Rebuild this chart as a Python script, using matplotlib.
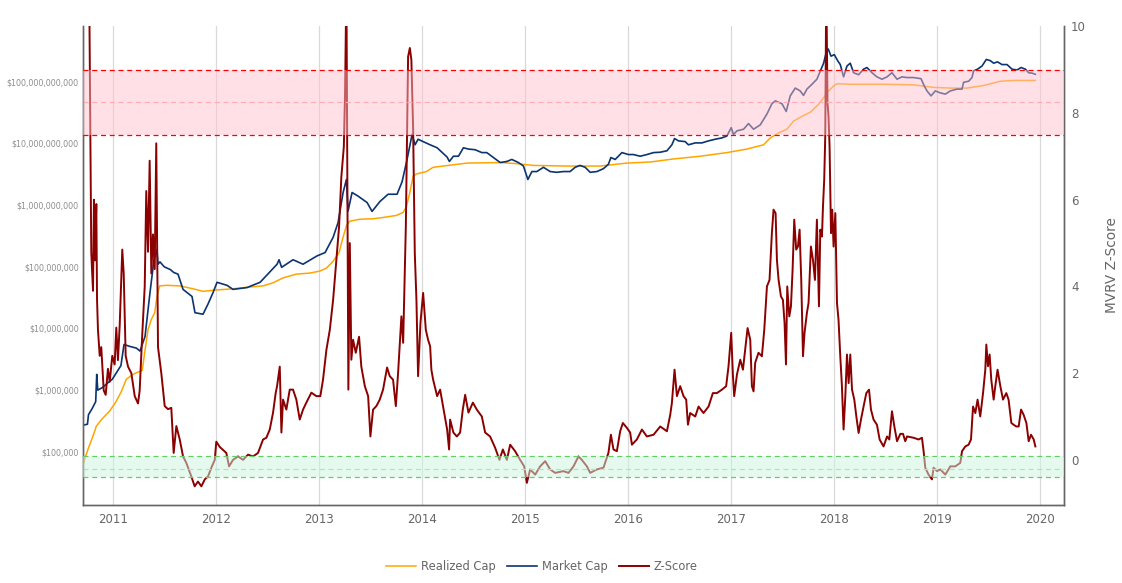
import matplotlib
matplotlib.use('Agg')
import matplotlib.pyplot as plt
from matplotlib.ticker import FixedLocator, NullLocator, FuncFormatter
import numpy as np

# --- data (decimal years) ---
mc_years = [2010.712, 2010.755, 2010.765, 2010.800, 2010.835, 2010.845, 2010.855, 2010.900, 2010.950, 2010.996,
            2011.051, 2011.080, 2011.110, 2011.168, 2011.230, 2011.265, 2011.314, 2011.362, 2011.401, 2011.430,
            2011.440, 2011.459, 2011.500, 2011.560, 2011.592, 2011.634, 2011.683, 2011.770, 2011.799, 2011.877,
            2011.926, 2011.974, 2012.013, 2012.110, 2012.168, 2012.304, 2012.431, 2012.499, 2012.596, 2012.615,
            2012.640, 2012.751, 2012.848, 2012.984, 2013.062, 2013.140, 2013.188, 2013.237, 2013.269, 2013.285,
            2013.324, 2013.382, 2013.470, 2013.518, 2013.596, 2013.674, 2013.761, 2013.810, 2013.858, 2013.907,
            2013.936, 2013.965, 2014.014, 2014.082, 2014.150, 2014.247, 2014.269, 2014.308, 2014.357, 2014.405,
            2014.454, 2014.519, 2014.584, 2014.632, 2014.697, 2014.762, 2014.827, 2014.875, 2014.939, 2014.988,
            2015.031, 2015.070, 2015.118, 2015.182, 2015.247, 2015.312, 2015.376, 2015.441, 2015.490, 2015.538,
            2015.587, 2015.636, 2015.701, 2015.765, 2015.813, 2015.837, 2015.879, 2015.944, 2016.008, 2016.056,
            2016.121, 2016.186, 2016.251, 2016.316, 2016.381, 2016.429, 2016.455, 2016.493, 2016.558, 2016.590,
            2016.656, 2016.721, 2016.785, 2016.850, 2016.915, 2016.963, 2017.005, 2017.027, 2017.061, 2017.125,
            2017.173, 2017.222, 2017.287, 2017.352, 2017.400, 2017.433, 2017.498, 2017.539, 2017.578, 2017.627,
            2017.675, 2017.707, 2017.740, 2017.789, 2017.837, 2017.863, 2017.902, 2017.928, 2017.947, 2017.974,
            2018.006, 2018.038, 2018.064, 2018.096, 2018.129, 2018.161, 2018.193, 2018.242, 2018.290, 2018.323,
            2018.372, 2018.420, 2018.469, 2018.518, 2018.566, 2018.615, 2018.663, 2018.712, 2018.776, 2018.848,
            2018.880, 2018.906, 2018.945, 2018.987, 2019.035, 2019.084, 2019.132, 2019.197, 2019.246, 2019.261,
            2019.310, 2019.343, 2019.358, 2019.397, 2019.440, 2019.482, 2019.520, 2019.553, 2019.591, 2019.634,
            2019.683, 2019.731, 2019.780, 2019.819, 2019.861, 2019.893, 2019.926, 2019.958]
market_cap = [2.7e5, 2.8e5, 4.0e5, 5.0e5, 6.5e5, 1.8e6, 1.0e6, 1.1e6, 1.3e6, 1.5e6,
              2.1e6, 2.5e6, 5.5e6, 5.1e6, 4.8e6, 4.3e6, 7.4e6, 3.8e7, 1.3e8, 1.9e8,
              1.1e8, 1.2e8, 1.0e8, 9.0e7, 8.1e7, 7.6e7, 4.3e7, 3.3e7, 1.8e7, 1.7e7,
              2.5e7, 3.8e7, 5.6e7, 5.0e7, 4.3e7, 4.6e7, 5.6e7, 7.4e7, 1.1e8, 1.3e8,
              9.8e7, 1.3e8, 1.1e8, 1.5e8, 1.7e8, 3.0e8, 5.2e8, 1.6e9, 2.6e9, 8.0e8,
              1.6e9, 1.4e9, 1.1e9, 7.9e8, 1.15e9, 1.5e9, 1.5e9, 2.4e9, 5.5e9, 1.4e10,
              9.5e9, 1.17e10, 1.07e10, 9.5e9, 8.5e9, 6.0e9, 5.1e9, 6.2e9, 6.2e9, 8.5e9,
              8.1e9, 7.9e9, 7.1e9, 7.1e9, 5.9e9, 4.9e9, 5.1e9, 5.5e9, 4.9e9, 4.3e9,
              2.6e9, 3.5e9, 3.5e9, 4.1e9, 3.5e9, 3.4e9, 3.5e9, 3.5e9, 4.1e9, 4.4e9,
              4.1e9, 3.4e9, 3.5e9, 3.9e9, 4.6e9, 5.9e9, 5.5e9, 7.1e9, 6.6e9, 6.6e9,
              6.2e9, 6.6e9, 7.1e9, 7.2e9, 7.6e9, 9.5e9, 1.2e10, 1.1e10, 1.07e10, 9.5e9,
              1.02e10, 1.02e10, 1.1e10, 1.17e10, 1.23e10, 1.32e10, 1.8e10, 1.4e10, 1.6e10, 1.7e10,
              2.1e10, 1.7e10, 2.0e10, 3.0e10, 4.4e10, 4.9e10, 4.4e10, 3.3e10, 5.9e10, 7.9e10,
              7.1e10, 6.0e10, 7.6e10, 9.1e10, 1.1e11, 1.4e11, 2.0e11, 3.0e11, 3.4e11, 2.6e11,
              2.75e11, 2.2e11, 1.9e11, 1.2e11, 1.8e11, 2.0e11, 1.4e11, 1.3e11, 1.6e11, 1.7e11,
              1.4e11, 1.2e11, 1.1e11, 1.2e11, 1.4e11, 1.1e11, 1.2e11, 1.17e11, 1.17e11, 1.12e11,
              8.5e10, 7.1e10, 5.9e10, 7.1e10, 6.6e10, 6.3e10, 7.1e10, 7.6e10, 7.6e10, 9.8e10,
              1.02e11, 1.17e11, 1.5e11, 1.6e11, 1.8e11, 2.3e11, 2.2e11, 2.0e11, 2.1e11, 1.9e11,
              1.9e11, 1.6e11, 1.55e11, 1.7e11, 1.6e11, 1.4e11, 1.38e11, 1.32e11]

rc_years = [2010.712, 2010.760, 2010.809, 2010.841, 2010.889, 2010.971, 2011.035, 2011.084, 2011.132, 2011.197,
            2011.287, 2011.311, 2011.343, 2011.375, 2011.408, 2011.430, 2011.456, 2011.521, 2011.651, 2011.780,
            2011.877, 2012.006, 2012.168, 2012.331, 2012.460, 2012.557, 2012.654, 2012.783, 2012.913, 2013.010,
            2013.075, 2013.140, 2013.198, 2013.230, 2013.269, 2013.302, 2013.399, 2013.528, 2013.625, 2013.754,
            2013.820, 2013.852, 2013.885, 2013.917, 2013.949, 2014.046, 2014.111, 2014.438, 2014.762, 2014.924,
            2015.085, 2015.409, 2015.733, 2015.992, 2016.219, 2016.445, 2016.704, 2016.963, 2017.158, 2017.319,
            2017.384, 2017.465, 2017.546, 2017.610, 2017.692, 2017.772, 2017.853, 2017.902, 2017.950, 2017.999,
            2018.032, 2018.161, 2018.484, 2018.776, 2018.873, 2018.970, 2019.132, 2019.294, 2019.455, 2019.618,
            2019.747, 2019.958]
realized_cap = [6.2e4, 1.1e5, 1.8e5, 2.6e5, 3.3e5, 4.6e5, 6.6e5, 9.5e5, 1.5e6, 1.8e6,
                2.1e6, 4.1e6, 9.5e6, 1.4e7, 1.8e7, 3.3e7, 4.9e7, 5.0e7, 4.9e7, 4.4e7,
                4.0e7, 4.2e7, 4.4e7, 4.7e7, 4.9e7, 5.5e7, 6.6e7, 7.6e7, 7.9e7, 8.5e7,
                9.5e7, 1.23e8, 1.7e8, 2.75e8, 4.6e8, 5.5e8, 5.9e8, 6.0e8, 6.3e8, 6.8e8,
                7.6e8, 9.5e8, 1.6e9, 2.95e9, 3.2e9, 3.5e9, 4.1e9, 4.8e9, 4.9e9, 4.7e9,
                4.4e9, 4.3e9, 4.3e9, 4.8e9, 5.0e9, 5.6e9, 6.2e9, 7.1e9, 8.1e9, 9.5e9,
                1.23e10, 1.48e10, 1.7e10, 2.3e10, 2.75e10, 3.2e10, 4.3e10, 5.5e10, 7.1e10, 8.5e10,
                9.3e10, 9.1e10, 9.1e10, 8.9e10, 8.5e10, 8.1e10, 7.9e10, 7.9e10, 8.7e10, 1.02e11,
                1.05e11, 1.05e11]

z_years = [2010.712, 2010.770, 2010.782, 2010.792, 2010.799, 2010.809, 2010.818, 2010.828, 2010.841, 2010.848,
           2010.857, 2010.874, 2010.889, 2010.913, 2010.932, 2010.954, 2010.971, 2010.996, 2011.019, 2011.035,
           2011.051, 2011.068, 2011.093, 2011.107, 2011.126, 2011.149, 2011.181, 2011.214, 2011.246, 2011.262,
           2011.285, 2011.311, 2011.326, 2011.343, 2011.359, 2011.375, 2011.391, 2011.408, 2011.423, 2011.440,
           2011.456, 2011.472, 2011.505, 2011.537, 2011.569, 2011.592, 2011.618, 2011.651, 2011.683, 2011.715,
           2011.763, 2011.796, 2011.828, 2011.861, 2011.894, 2011.926, 2011.958, 2011.991, 2012.006, 2012.039,
           2012.071, 2012.103, 2012.130, 2012.168, 2012.217, 2012.266, 2012.314, 2012.363, 2012.411, 2012.460,
           2012.492, 2012.525, 2012.557, 2012.583, 2012.596, 2012.622, 2012.638, 2012.654, 2012.686, 2012.719,
           2012.751, 2012.783, 2012.816, 2012.848, 2012.880, 2012.929, 2012.977, 2013.016, 2013.042, 2013.075,
           2013.108, 2013.140, 2013.172, 2013.198, 2013.220, 2013.244, 2013.256, 2013.269, 2013.279, 2013.288,
           2013.302, 2013.317, 2013.334, 2013.360, 2013.392, 2013.414, 2013.448, 2013.480, 2013.502, 2013.528,
           2013.560, 2013.593, 2013.625, 2013.664, 2013.690, 2013.722, 2013.749, 2013.771, 2013.803, 2013.820,
           2013.846, 2013.868, 2013.885, 2013.900, 2013.917, 2013.933, 2013.949, 2013.965, 2013.988, 2014.014,
           2014.040, 2014.062, 2014.082, 2014.094, 2014.111, 2014.150, 2014.179, 2014.208, 2014.247, 2014.266,
           2014.276, 2014.308, 2014.341, 2014.373, 2014.399, 2014.422, 2014.454, 2014.497, 2014.535, 2014.584,
           2014.616, 2014.664, 2014.713, 2014.755, 2014.788, 2014.827, 2014.859, 2014.907, 2014.956, 2014.995,
           2015.021, 2015.053, 2015.102, 2015.150, 2015.199, 2015.247, 2015.296, 2015.376, 2015.425, 2015.474,
           2015.522, 2015.555, 2015.604, 2015.636, 2015.701, 2015.765, 2015.813, 2015.837, 2015.862, 2015.895,
           2015.927, 2015.953, 2015.992, 2016.024, 2016.041, 2016.089, 2016.138, 2016.186, 2016.251, 2016.316,
           2016.381, 2016.413, 2016.429, 2016.455, 2016.478, 2016.510, 2016.542, 2016.568, 2016.585, 2016.607,
           2016.656, 2016.688, 2016.736, 2016.785, 2016.827, 2016.866, 2016.915, 2016.956, 2016.979, 2017.005,
           2017.022, 2017.034, 2017.061, 2017.093, 2017.119, 2017.141, 2017.164, 2017.190, 2017.206, 2017.222,
           2017.238, 2017.270, 2017.303, 2017.326, 2017.352, 2017.377, 2017.400, 2017.416, 2017.436, 2017.449,
           2017.465, 2017.488, 2017.507, 2017.523, 2017.537, 2017.549, 2017.569, 2017.585, 2017.601, 2017.617,
           2017.636, 2017.653, 2017.669, 2017.685, 2017.702, 2017.717, 2017.740, 2017.756, 2017.779, 2017.799,
           2017.818, 2017.837, 2017.857, 2017.870, 2017.886, 2017.896, 2017.908, 2017.918, 2017.928, 2017.940,
           2017.950, 2017.960, 2017.974, 2017.986, 2017.999, 2018.016, 2018.032, 2018.047, 2018.064, 2018.080,
           2018.096, 2018.113, 2018.129, 2018.145, 2018.161, 2018.178, 2018.200, 2018.220, 2018.242, 2018.265,
           2018.290, 2018.317, 2018.343, 2018.362, 2018.387, 2018.420, 2018.446, 2018.484, 2018.518, 2018.540,
           2018.566, 2018.589, 2018.615, 2018.647, 2018.673, 2018.695, 2018.712, 2018.776, 2018.824, 2018.857,
           2018.873, 2018.889, 2018.921, 2018.954, 2018.970, 2019.003, 2019.035, 2019.084, 2019.132, 2019.181,
           2019.229, 2019.246, 2019.278, 2019.310, 2019.333, 2019.353, 2019.375, 2019.397, 2019.423, 2019.450,
           2019.472, 2019.482, 2019.498, 2019.514, 2019.530, 2019.553, 2019.569, 2019.591, 2019.618, 2019.644,
           2019.676, 2019.698, 2019.725, 2019.747, 2019.773, 2019.796, 2019.819, 2019.844, 2019.871, 2019.893,
           2019.916, 2019.942, 2019.958]
z_score = [14.0, 11.5, 7.8, 4.8, 4.4, 3.9, 6.0, 4.6, 5.9, 3.7,
           3.0, 2.4, 2.6, 1.6, 1.5, 2.1, 1.8, 2.4, 2.2, 3.05,
           2.3, 3.1, 4.85, 4.3, 2.4, 2.15, 2.0, 1.47, 1.3, 1.6,
           2.8, 4.0, 6.2, 4.8, 6.9, 4.3, 5.2, 4.4, 7.3, 2.6,
           2.3, 2.0, 1.24, 1.17, 1.2, 0.16, 0.78, 0.47, 0.08, -0.07,
           -0.38, -0.61, -0.5, -0.61, -0.45, -0.38, -0.18, 0.0, 0.42, 0.3,
           0.23, 0.16, -0.15, 0.0, 0.08, 0.0, 0.12, 0.08, 0.16, 0.47,
           0.51, 0.70, 1.09, 1.55, 1.7, 2.15, 0.63, 1.39, 1.16, 1.62,
           1.62, 1.39, 0.93, 1.16, 1.32, 1.55, 1.47, 1.47, 1.85, 2.54,
           3.0, 3.69, 4.62, 5.38, 6.53, 7.22, 8.46, 11.0, 6.3, 1.62,
           5.0, 2.31, 2.77, 2.47, 2.84, 2.15, 1.7, 1.47, 0.54, 1.16,
           1.24, 1.39, 1.62, 2.13, 1.93, 1.85, 1.24, 2.01, 3.31, 2.7,
           5.38, 9.3, 9.5, 9.22, 7.61, 4.77, 3.69, 1.93, 3.16, 3.85,
           3.0, 2.77, 2.62, 2.08, 1.85, 1.47, 1.62, 1.23, 0.7, 0.24,
           0.93, 0.63, 0.54, 0.63, 1.16, 1.5, 1.09, 1.32, 1.16, 1.0,
           0.63, 0.54, 0.28, 0.0, 0.24, 0.0, 0.35, 0.2, 0.0, -0.15,
           -0.53, -0.22, -0.34, -0.15, -0.03, -0.22, -0.3, -0.26, -0.3, -0.15,
           0.08, 0.0, -0.15, -0.3, -0.22, -0.18, 0.16, 0.58, 0.24, 0.2,
           0.66, 0.85, 0.74, 0.63, 0.35, 0.47, 0.7, 0.54, 0.58, 0.77,
           0.66, 1.04, 1.31, 2.08, 1.47, 1.7, 1.47, 1.39, 0.81, 1.08,
           1.0, 1.23, 1.08, 1.23, 1.54, 1.54, 1.62, 1.7, 2.16, 2.93,
           1.93, 1.47, 1.97, 2.31, 2.08, 2.54, 3.04, 2.77, 1.7, 1.58,
           2.24, 2.47, 2.39, 3.0, 4.0, 4.15, 5.23, 5.77, 5.69, 4.61,
           4.15, 3.77, 3.69, 3.16, 2.2, 4.0, 3.31, 3.54, 4.38, 5.54,
           4.85, 4.92, 5.31, 4.15, 2.39, 2.93, 3.39, 3.62, 4.92, 4.61,
           4.15, 5.54, 3.54, 5.31, 5.15, 5.84, 6.46, 7.46, 11.0, 8.23,
           7.92, 7.23, 5.23, 5.77, 4.92, 5.69, 3.62, 3.23, 2.39, 1.7,
           0.70, 1.47, 2.43, 1.77, 2.43, 1.62, 1.39, 1.0, 0.62, 0.93,
           1.23, 1.54, 1.62, 1.16, 0.93, 0.81, 0.47, 0.31, 0.54, 0.47,
           1.12, 0.77, 0.43, 0.6, 0.6, 0.43, 0.54, 0.51, 0.47, 0.51,
           0.2, -0.18, -0.34, -0.45, -0.18, -0.26, -0.22, -0.34, -0.15, -0.15,
           -0.07, 0.2, 0.31, 0.35, 0.47, 1.23, 1.08, 1.39, 1.0, 1.54,
           2.08, 2.66, 2.16, 2.43, 1.85, 1.39, 1.7, 2.08, 1.7, 1.39,
           1.54, 1.39, 0.85, 0.81, 0.77, 0.77, 1.16, 1.04, 0.85, 0.43,
           0.58, 0.47, 0.31]

year_ticks = list(range(2011, 2021))
cap_ticks = [1e5, 1e6, 1e7, 1e8, 1e9, 1e10, 1e11]
z_ticks = [0, 2, 4, 6, 8, 10]
top_band = (7.5, 9.0)
bottom_band = (-0.4, 0.1)

fig = plt.figure(figsize=(11.22, 5.83), dpi=100)
ax = fig.add_axes([0.074, 0.1346, 0.8743, 0.8203])
ax2 = ax.twinx()

ax.plot(rc_years, realized_cap, color='#FFA500', lw=1.1, label='Realized Cap')
ax.plot(mc_years, market_cap, color='#0B3470', lw=1.2, label='Market Cap')
ax2.plot(z_years, z_score, color='#8B0000', lw=1.4, label='Z-Score', zorder=2)

# bands drawn on top so the lines show through faded
ax2.axhline((top_band[0] + top_band[1]) / 2, color='#FF9AA5', lw=0.9, ls=(0, (4, 3)), zorder=2.5)
ax2.axhspan(top_band[0], top_band[1], color='#FFC0CB', alpha=0.48, lw=0, zorder=3)
for v in top_band:
    ax2.axhline(v, color='#FF0000', lw=0.9, ls=(0, (4, 3)), zorder=4)
ax2.axhline(-0.2, color='#8FD98F', lw=0.9, ls=(0, (4, 3)), zorder=2.5)
ax2.axhspan(bottom_band[0], bottom_band[1], color='#CCF5E1', alpha=0.5, lw=0, zorder=3)
for v in bottom_band:
    ax2.axhline(v, color='#66CC66', lw=0.9, ls=(0, (4, 3)), zorder=4)

ax.set_yscale('log')
ax.set_xlim(2010.712, 2020.236)
ax.set_ylim(1.396e4, 7.93e11)
ax2.set_ylim(-1.03, 10.0)

ax.xaxis.set_major_locator(FixedLocator(year_ticks))
ax.set_xticklabels([str(y) for y in year_ticks])
ax.yaxis.set_major_locator(FixedLocator(cap_ticks))
ax.yaxis.set_minor_locator(NullLocator())
ax.yaxis.set_major_formatter(FuncFormatter(lambda v, p: '${:,.0f}'.format(v)))
ax2.yaxis.set_major_locator(FixedLocator(z_ticks))

ax.grid(axis='x', color='#D9D9D9', lw=0.9)
ax.set_axisbelow(True)

for a in (ax, ax2):
    for s in a.spines.values():
        s.set_color('#666666')
        s.set_linewidth(1.0)
    a.spines['top'].set_visible(False)
ax.tick_params(axis='x', length=0, pad=6, labelsize=8.5, labelcolor='#666666')
ax.tick_params(axis='y', length=0, pad=3, labelsize=5.7, labelcolor='#8C8C8C')
ax2.tick_params(axis='y', length=0, pad=5, labelsize=8.5, labelcolor='#666666')
ax2.set_ylabel('MVRV Z-Score', fontsize=9.8, color='#666666', labelpad=14)

h1, l1 = ax.get_legend_handles_labels()
h2, l2 = ax2.get_legend_handles_labels()
fig.legend(h1 + h2, l1 + l2, loc='center', bbox_to_anchor=(0.483, 0.029), ncol=3, frameon=False,
           fontsize=8.3, labelcolor='#666666', handlelength=2.6, handletextpad=0.45, columnspacing=0.95)

fig.savefig('out.png', dpi=100)
